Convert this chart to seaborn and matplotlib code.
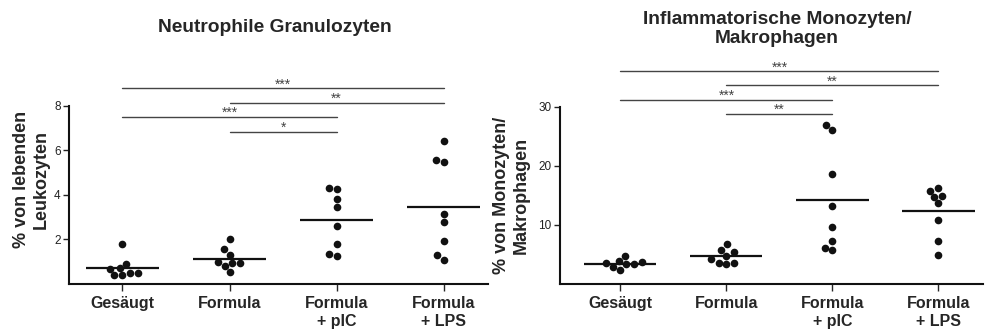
import numpy as np
import pandas as pd
import seaborn as sns
from matplotlib import pyplot as plt

# Groups (x tick labels)
groups = ["Gesäugt", "Formula", "Formula\n+ pIC", "Formula\n+ LPS"]

# Neutrophile Granulozyten (% von lebenden Leukozyten)
neu_gesaeugt = [1.8, 0.9, 0.68, 0.7, 0.5, 0.5, 0.38, 0.4]
neu_formula = [2.0, 1.55, 1.3, 0.95, 0.95, 1.0, 0.82, 0.55]
neu_pic = [4.27, 4.3, 3.82, 3.43, 2.62, 1.77, 1.27, 1.36]
neu_lps = [6.39, 5.57, 5.49, 3.15, 2.79, 1.94, 1.3, 1.09]

# Inflammatorische Monozyten/Makrophagen (% von Monozyten/Makrophagen)
mono_gesaeugt = [3.8, 3.58, 3.3, 4.7, 2.4, 2.8, 3.4, 3.64]
mono_formula = [4.8, 5.8, 5.4, 6.7, 3.6, 3.4, 3.6, 4.2]
mono_pic = [26.05, 26.9, 18.56, 13.1, 9.55, 7.24, 5.66, 6.0]
mono_lps = [14.78, 15.8, 16.25, 14.9, 13.66, 10.79, 7.24, 4.82]

# Significance comparisons (group index pairs) and labels
sig_pairs = [(0, 3), (1, 3), (0, 2), (1, 2)]
neu_sig_labels = ["***", "**", "***", "*"]
mono_sig_labels = ["***", "**", "***", "**"]
# heights of the bracket lines (data units)
neu_sig_heights = [8.78, 8.13, 7.5, 6.83]
mono_sig_heights = [36.0, 33.65, 31.2, 28.8]


def long_frame(series):
    rows = []
    for g, vals in zip(groups, series):
        for v in vals:
            rows.append({"group": g, "value": v})
    return pd.DataFrame(rows)


neu_df = long_frame([neu_gesaeugt, neu_formula, neu_pic, neu_lps])
mono_df = long_frame([mono_gesaeugt, mono_formula, mono_pic, mono_lps])

sns.set_style("white")
plt.rcParams["font.family"] = ["Liberation Sans", "DejaVu Sans"]

fig = plt.figure(figsize=(9.85, 3.29), dpi=100)
ax1 = fig.add_axes([0.070, 0.137, 0.425, 0.542])
ax2 = fig.add_axes([0.5685, 0.137, 0.4295, 0.539])


def draw_panel(ax, df, ylim, yticks, xlim, ylabel, sig_labels, sig_heights):
    sns.swarmplot(data=df, x="group", y="value", order=groups, color="#111111",
                  size=5.5, ax=ax, zorder=3)
    means = df.groupby("group", sort=False)["value"].mean()
    for i, g in enumerate(groups):
        ax.hlines(means[g], i - 0.34, i + 0.34, color="#111111", lw=1.6, zorder=4)

    # significance brackets
    for (a, b), lab, h in zip(sig_pairs, sig_labels, sig_heights):
        ax.plot([a, b], [h, h], color="#444444", lw=1.0, clip_on=False)
        ax.annotate(lab, xy=((a + b) / 2, h), xytext=(0, -0.5),
                    textcoords="offset pixels", ha="center", va="baseline",
                    fontsize=10, color="#444444", annotation_clip=False)

    ax.set_ylim(*ylim)
    ax.set_xlim(*xlim)
    ax.set_yticks(yticks)
    ax.set_xlabel("")
    ax.set_ylabel(ylabel, fontsize=13, fontweight="bold", labelpad=6,
                  linespacing=1.25)
    ax.set_xticks(range(len(groups)))
    ax.set_xticklabels(groups, fontsize=11.5, fontweight="bold")
    ax.tick_params(axis="y", labelsize=8.5, length=4, width=1, direction="out",
                   left=True, colors="#222222", pad=2)
    ax.tick_params(axis="x", length=5, width=1, direction="out", bottom=True,
                   pad=4)
    for side in ["top", "right"]:
        ax.spines[side].set_visible(False)
    for side in ["left", "bottom"]:
        ax.spines[side].set_linewidth(1.5)
        ax.spines[side].set_color("#111111")


draw_panel(ax1, neu_df, (0, 8), [2, 4, 6, 8], (-0.5, 3.41),
           "% von lebenden\nLeukozyten", neu_sig_labels, neu_sig_heights)
draw_panel(ax2, mono_df, (0, 30), [10, 20, 30], (-0.57, 3.42),
           "% von Monozyten/\nMakrophagen", mono_sig_labels, mono_sig_heights)
ax1.yaxis.set_label_coords(-0.045, 0.585)

fig.text(0.279, 0.915, "Neutrophile Granulozyten", ha="center", va="center",
         fontsize=13.8, fontweight="bold")
fig.text(0.789, 0.912, "Inflammatorische Monozyten/\nMakrophagen", ha="center",
         va="center", fontsize=13.8, fontweight="bold", linespacing=1.15)

fig.savefig("out.png", dpi=100, facecolor="white")
